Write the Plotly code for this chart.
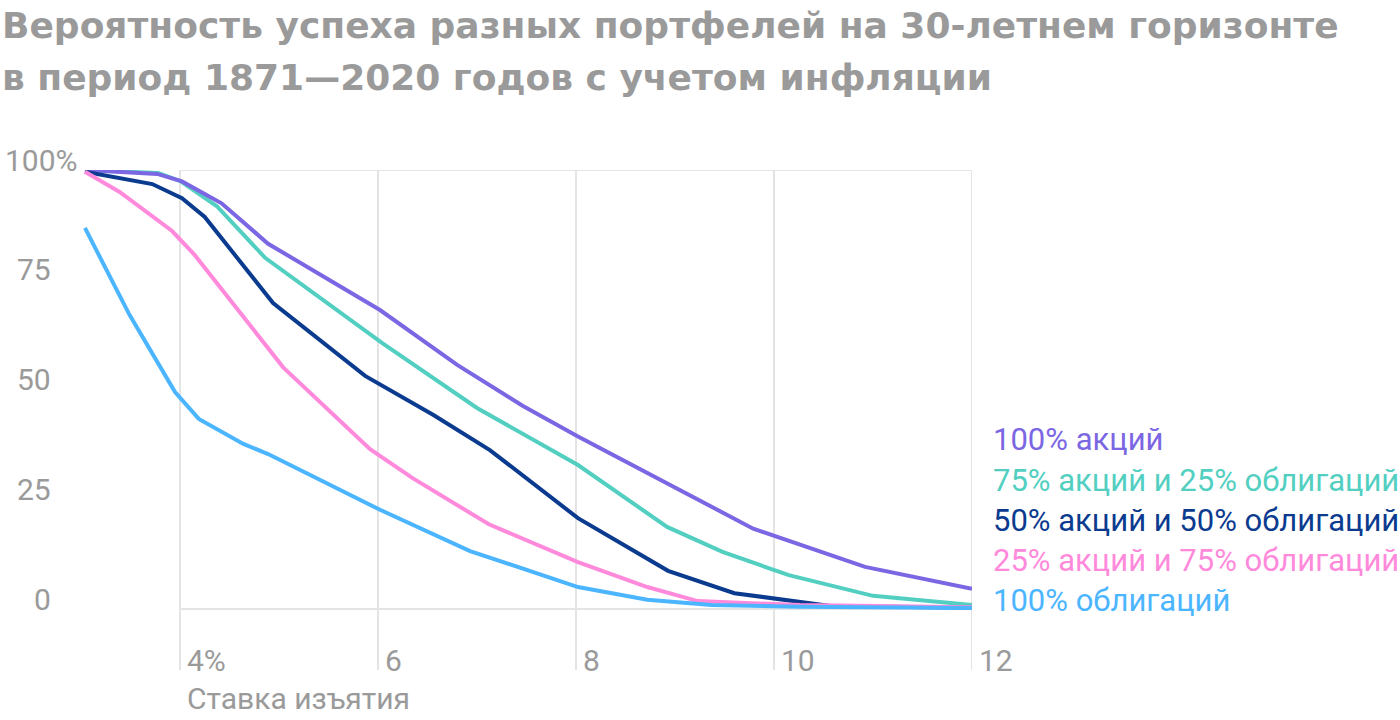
import plotly.graph_objects as go

# ---------------- data ----------------
series_names = [
    "100% акций",
    "75% акций и 25% облигаций",
    "50% акций и 50% облигаций",
    "25% акций и 75% облигаций",
    "100% облигаций",
]
series_colors = ["#7B66E3", "#52CFC1", "#0B3B8F", "#FF8ADB", "#4CB5FF"]

x_stocks100 = [3.04, 3.77, 4.02, 4.42, 4.89, 6.02, 6.80, 7.46, 8.02, 8.92, 9.79, 10.92, 12.0]
y_stocks100 = [100, 99.1, 97.4, 92.4, 83.2, 68.1, 55.6, 46.3, 39.3, 28.7, 18.3, 9.6, 4.6]

x_stocks75 = [3.04, 3.78, 4.00, 4.37, 4.86, 6.04, 7.00, 8.02, 8.92, 9.48, 10.15, 11.0, 12.0]
y_stocks75 = [100, 99.3, 97.5, 91.8, 80.0, 60.6, 45.8, 32.8, 18.7, 13.0, 7.7, 3.0, 0.9]

x_stocks50 = [3.04, 3.72, 4.02, 4.25, 4.94, 5.87, 6.56, 7.13, 8.02, 8.93, 9.60, 10.57, 12.0]
y_stocks50 = [99.6, 96.8, 93.6, 89.3, 69.7, 53.1, 44.2, 36.2, 20.7, 8.7, 3.6, 0.7, 0.3]

x_stocks25 = [3.04, 3.39, 3.92, 4.15, 5.04, 5.92, 6.35, 7.12, 8.02, 8.72, 9.23, 10.26, 12.0]
y_stocks25 = [99.6, 95.0, 86.1, 80.6, 55.1, 36.4, 29.8, 19.3, 10.7, 5.0, 1.8, 0.9, 0.4]

x_bonds100 = [3.04, 3.49, 3.95, 4.19, 4.64, 4.89, 6.02, 6.93, 8.02, 8.72, 9.37, 10.26, 12.0]
y_bonds100 = [86.8, 67.0, 49.4, 43.3, 37.6, 35.3, 22.6, 13.2, 5.0, 2.1, 0.9, 0.5, 0.2]

x_ticks = [4, 6, 8, 10, 12]
x_tick_labels = ["4%", "6", "8", "10", "12"]
y_ticks = [0, 25, 50, 75, 100]
y_tick_labels = ["0", "25", "50", "75", "100%"]

title_lines = [
    "Вероятность успеха разных портфелей на 30-летнем горизонте",
    "в период 1871—2020 годов с учетом инфляции",
]
x_title = "Ставка изъятия"

# ---------------- layout geometry (pixels) ----------------
W, H = 1400, 720
PL, PR, PT, PB = 81, 972, 170, 670          # plot area edges
X0, X1 = 3.0, 12.0
Y1 = 100.0
Y0 = -(PB - 609) / ((609 - PT) / 100.0)     # value at bottom edge


def xp(px):
    return (px - PL) / (PR - PL)


def yp(py):
    return (PB - py) / (PB - PT)


GRAY = "#9a9a9a"
FONT = "Roboto"

fig = go.Figure()

data = [
    (x_stocks75, y_stocks75, 1),
    (x_stocks100, y_stocks100, 0),
    (x_stocks50, y_stocks50, 2),
    (x_stocks25, y_stocks25, 3),
    (x_bonds100, y_bonds100, 4),
]
for xs, ys, i in data:
    fig.add_trace(go.Scatter(
        x=xs, y=ys, mode="lines", name=series_names[i],
        line=dict(color=series_colors[i], width=4),
        cliponaxis=False, hoverinfo="x+y+name",
    ))

shapes = []
for v in x_ticks:
    shapes.append(dict(type="line", xref="x", yref="paper", x0=v, x1=v, y0=0, y1=1,
                       line=dict(color="#e4e4e4", width=2), layer="below"))
for v in (0, 100):
    shapes.append(dict(type="line", xref="x", yref="y", x0=x_ticks[0], x1=x_ticks[-1], y0=v, y1=v,
                       line=dict(color="#e4e4e4", width=2), layer="below"))

annotations = []
# y tick labels
for v, t in zip(y_ticks, y_tick_labels):
    if t.endswith("%"):
        annotations.append(dict(x=xp(3), xref="paper", y=v, yref="y", text=t, showarrow=False,
                                xanchor="left", yanchor="middle", yshift=10,
                                font=dict(family=FONT, size=30, color=GRAY)))
    else:
        annotations.append(dict(x=xp(53), xref="paper", y=v, yref="y", text=t, showarrow=False,
                                xanchor="right", yanchor="middle", yshift=10,
                                font=dict(family=FONT, size=30, color=GRAY)))
# x tick labels
for v, t in zip(x_ticks, x_tick_labels):
    annotations.append(dict(x=v, xref="x", y=yp(660), yref="paper", text=t, showarrow=False,
                            xanchor="left", yanchor="middle", xshift=5,
                            font=dict(family=FONT, size=30, color=GRAY)))
# x axis title
annotations.append(dict(x=xp(185), xref="paper", y=yp(698), yref="paper", text=x_title,
                        showarrow=False, xanchor="left", yanchor="middle",
                        font=dict(family=FONT, size=30, color=GRAY)))
# series labels
label_y = [439, 480, 520, 560, 600]
for i, name in enumerate(series_names):
    annotations.append(dict(x=xp(991), xref="paper", y=yp(label_y[i]), yref="paper", text=name,
                            showarrow=False, xanchor="left", yanchor="middle",
                            font=dict(family=FONT, size=31, color=series_colors[i])))
# title (two lines)
title_y = [26, 77]
for line, ty in zip(title_lines, title_y):
    annotations.append(dict(x=xp(0), xref="paper", y=yp(ty), yref="paper",
                            text=line, showarrow=False,
                            xanchor="left", yanchor="middle", align="left",
                            font=dict(family="DejaVu Sans", size=36, color=GRAY, weight=700)))

fig.update_layout(
    width=W, height=H,
    margin=dict(l=PL, r=W - PR, t=PT, b=H - PB, pad=0),
    paper_bgcolor="white", plot_bgcolor="white",
    showlegend=False,
    xaxis=dict(range=[X0, X1], showgrid=False, zeroline=False, showticklabels=False,
               showline=False, ticks="", fixedrange=True),
    yaxis=dict(range=[Y0, Y1], showgrid=False, zeroline=False, showticklabels=False,
               showline=False, ticks="", fixedrange=True),
    shapes=shapes,
    annotations=annotations,
)

fig.write_html("out.html", config={"displayModeBar": False},
               post_script="document.body.style.margin='0';")
